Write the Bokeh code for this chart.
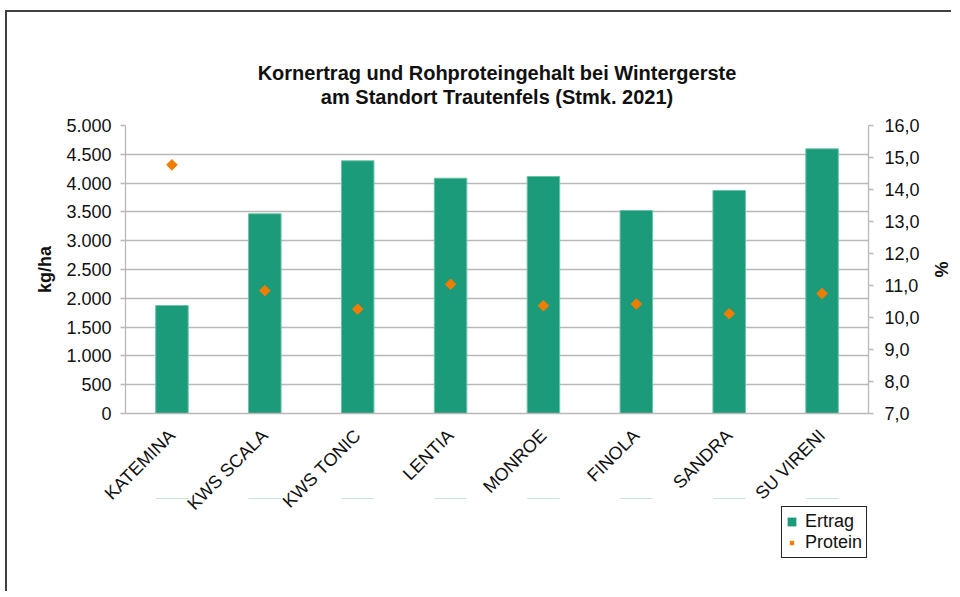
import math
from bokeh.plotting import figure
from bokeh.layouts import column
from bokeh.models import (ColumnDataSource, FactorRange, Range1d, LinearAxis, FixedTicker,
                          Legend, LegendItem, Title)
from bokeh.embed import file_html
from bokeh.resources import INLINE

# ---- data ----
varieties = ["KATEMINA", "KWS SCALA", "KWS TONIC", "LENTIA", "MONROE", "FINOLA", "SANDRA", "SU VIRENI"]
ertrag = [1875, 3467, 4387, 4085, 4115, 3524, 3872, 4595]          # kg/ha
protein = [14.77, 10.84, 10.26, 11.04, 10.37, 10.42, 10.12, 10.75]  # %

left_ticks = [0, 500, 1000, 1500, 2000, 2500, 3000, 3500, 4000, 4500, 5000]
left_labels = ["0", "500", "1.000", "1.500", "2.000", "2.500", "3.000", "3.500", "4.000", "4.500", "5.000"]
right_ticks = [7, 8, 9, 10, 11, 12, 13, 14, 15, 16]
right_labels = ["7,0", "8,0", "9,0", "10,0", "11,0", "12,0", "13,0", "14,0", "15,0", "16,0"]

title_line1 = "Kornertrag und Rohproteingehalt bei Wintergerste"
title_line2 = "am Standort Trautenfels (Stmk. 2021)"
series_names = ["Ertrag", "Protein"]

FONT = "Liberation Sans"
BAR = "#1b9b79"
BAR_EDGE = "#6cc3a8"
ORANGE = "#ef7d00"
GRID = "#b9b9b9"
TXT = "#111111"

src = ColumnDataSource(dict(v=varieties, e=ertrag, p=protein))

p = figure(width=946, height=515, x_range=FactorRange(*varieties), y_range=Range1d(0, 5000),
           output_backend="svg", toolbar_location=None,
           min_border_left=118, min_border_right=84, min_border_top=113, min_border_bottom=114)
p.styles = {"border-top": "2px solid #404040", "border-left": "2px solid #404040",
            "margin-left": "5px", "margin-top": "10px"}
p.outline_line_color = None

p.extra_y_ranges = {"pct": Range1d(7, 16)}

p.vbar(x="v", top="e", width=0.35, source=src, fill_color=BAR, line_color=BAR_EDGE, line_width=1)
p.scatter(x="v", y="p", source=src, y_range_name="pct", marker="square", angle=math.pi / 4,
          size=7.5, fill_color=ORANGE, line_color=ORANGE)

# left axis
ya = p.yaxis[0]
ya.ticker = FixedTicker(ticks=left_ticks)
ya.major_label_overrides = {t: l for t, l in zip(left_ticks, left_labels)}
ya.axis_label = "kg/ha"

# right axis
ra = LinearAxis(y_range_name="pct", ticker=FixedTicker(ticks=right_ticks))
ra.major_label_overrides = {t: l for t, l in zip(right_ticks, right_labels)}
ra.axis_label = "%"
p.add_layout(ra, "right")

for ax in [ya, ra]:
    ax.axis_line_color = GRID
    ax.axis_line_width = 1.3
    ax.major_tick_line_color = GRID
    ax.major_tick_line_width = 1.3
    ax.major_tick_in = 0
    ax.major_tick_out = 5
    ax.minor_tick_line_color = None
    ax.major_label_text_font = FONT
    ax.major_label_text_font_size = "18px"
    ax.major_label_text_color = TXT
    ax.axis_label_text_font = FONT
    ax.axis_label_text_font_size = "18px"
    ax.axis_label_text_font_style = "bold"
    ax.axis_label_text_color = TXT
ya.major_label_standoff = 9
ya.axis_label_standoff = 8
ra.major_label_standoff = 11
ra.axis_label_standoff = 8

xa = p.xaxis[0]
xa.axis_line_color = GRID
xa.axis_line_width = 1.3
xa.major_tick_line_color = None
xa.minor_tick_line_color = None
xa.major_label_orientation = math.pi / 4
xa.major_label_text_font = FONT
xa.major_label_text_font_size = "18px"
xa.major_label_text_color = TXT
xa.major_label_standoff = 13

p.xgrid.grid_line_color = None
p.ygrid.grid_line_color = GRID
p.ygrid.grid_line_width = 1.3
p.ygrid.ticker = FixedTicker(ticks=left_ticks)

# titles: a blank spacer nearest the frame, then line 2, then line 1
spacer = Title(text=" ", text_font=FONT, text_font_size="10px", standoff=5)
t2 = Title(text=title_line2, align="center", text_font=FONT, text_font_size="20px",
           text_font_style="bold", text_color=TXT, standoff=0)
t1 = Title(text=title_line1, align="center", text_font=FONT, text_font_size="20px",
           text_font_style="bold", text_color=TXT, standoff=0)
p.add_layout(spacer, "above")
p.add_layout(t2, "above")
p.add_layout(t1, "above")

# legend strip, overlapping the bottom of the chart (transparent);
# its series renderers use the same data but lie far outside this strip's visible range
q = figure(width=946, height=93, x_range=FactorRange(*varieties), y_range=Range1d(-20000, -10000),
           output_backend="svg", toolbar_location=None,
           x_axis_location=None, y_axis_location=None,
           min_border_left=118, min_border_right=84, min_border_top=0, min_border_bottom=0)
q.styles = {"border-left": "2px solid #404040", "margin-left": "5px", "margin-top": "-27px"}
q.outline_line_color = None
q.background_fill_alpha = 0
q.border_fill_alpha = 0
q.xgrid.grid_line_color = None
q.ygrid.grid_line_color = None
lb = q.vbar(x="v", top="e", width=0.35, source=src, fill_color=BAR, line_color=None)
lp = q.scatter(x="v", y="p", source=src, marker="square", angle=math.pi / 4, size=5.5,
               fill_color=ORANGE, line_color=None)
legend = Legend(items=[LegendItem(label=series_names[0], renderers=[lb]),
                       LegendItem(label=series_names[1], renderers=[lp])],
                location=(656, 33), border_line_color="#222222", border_line_width=1,
                border_line_alpha=1,
                label_text_font=FONT, label_text_font_size="18px", label_text_color=TXT,
                glyph_width=11, glyph_height=11, label_standoff=8, padding=4, spacing=0,
                margin=0, label_height=20, background_fill_alpha=1)
q.add_layout(legend, "center")

layout = column(p, q, spacing=0)
open("out.html", "w").write(file_html(layout, INLINE))
